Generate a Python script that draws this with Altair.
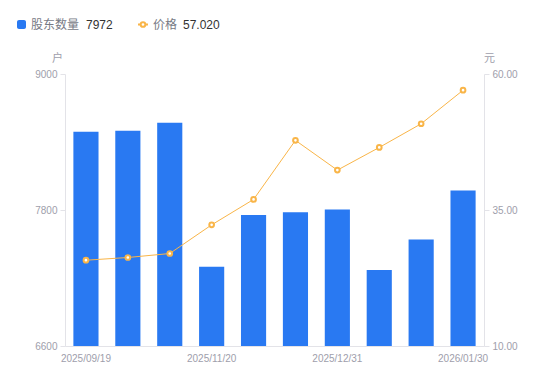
import altair as alt
import pandas as pd

dates = ["2025/09/19", "2025/09/30", "2025/10/31", "2025/11/20", "2025/11/28",
         "2025/12/10", "2025/12/31", "2026/01/09", "2026/01/20", "2026/01/30"]
holders = [8490, 8500, 8570, 7300, 7755, 7780, 7805, 7270, 7540, 7972]
prices = [25.77, 26.27, 27.00, 32.27, 36.94, 47.80, 42.33, 46.50, 50.85, 57.02]
shown_dates = [dates[0], dates[3], dates[6], dates[9]]
left_ticks = [6600, 7800, 9000]
right_ticks = [10, 35, 60]
series_names = ["股东数量", "价格"]
left_unit = "户"
right_unit = "元"

df = pd.DataFrame({"date": dates, "holders": holders, "price": prices})

FONT = "Liberation Sans, Noto Sans CJK SC, sans-serif"
LABEL_COLOR = "#9e9eab"
AXIS_LINE = "#e3e3e8"
BLUE = "#2979f2"
ORANGE = "#f9b548"

x_enc = alt.X("date:N", sort=dates, title=None,
              scale=alt.Scale(paddingInner=0.4, paddingOuter=0.2),
              axis=alt.Axis(values=shown_dates, labelAngle=0, ticks=False,
                            domainColor=AXIS_LINE, labelColor=LABEL_COLOR,
                            labelFontSize=10, labelFont=FONT, labelPadding=7,
                            grid=False))

bars = alt.Chart(df).mark_bar(color=BLUE, clip=True).encode(
    x=x_enc,
    y=alt.Y("holders:Q", scale=alt.Scale(domain=[6600, 9000], zero=False, nice=False),
            axis=alt.Axis(values=left_ticks, format="d", grid=False, title=left_unit,
                          titleAngle=0, titleX=-8, titleY=-16, titleAlign="center",
                          titleBaseline="middle", titleColor=LABEL_COLOR,
                          titleFontSize=11, titleFontWeight="normal", titleFont=FONT,
                          domainColor=AXIS_LINE, tickColor=AXIS_LINE, tickSize=5,
                          labelColor=LABEL_COLOR, labelFontSize=10, labelFont=FONT,
                          labelPadding=3, labelFlush=False)),
)

price_y = alt.Y("price:Q", scale=alt.Scale(domain=[10, 60], zero=False, nice=False),
                axis=alt.Axis(values=right_ticks, format=".2f", orient="right", grid=False,
                              title=right_unit, titleAngle=0, titleX=5, titleY=-16,
                              titleAlign="center", titleBaseline="middle",
                              titleColor=LABEL_COLOR, titleFontSize=11,
                              titleFontWeight="normal", titleFont=FONT,
                              domainColor=AXIS_LINE, tickColor=AXIS_LINE, tickSize=5,
                              labelColor=LABEL_COLOR, labelFontSize=10, labelFont=FONT,
                              labelPadding=3, labelFlush=False))

line = alt.Chart(df).mark_line(color=ORANGE, strokeWidth=1).encode(x=x_enc, y=price_y)
pts = alt.Chart(df).mark_point(shape="circle", filled=True, fill="white", stroke=ORANGE,
                               strokeWidth=2, size=22, opacity=1).encode(x=x_enc, y=price_y)

price_layer = alt.layer(line, pts)

# Legend (custom, top-left)
leg = pd.DataFrame({"a": [0]})
sq = alt.Chart(leg).mark_rect(color=BLUE, cornerRadius=2).encode(
    x=alt.value(-48), x2=alt.value(-39), y=alt.value(-54), y2=alt.value(-45))
t1 = alt.Chart(leg).mark_text(text=series_names[0], align="left", baseline="middle",
                              fontSize=12, font=FONT, color="#777a85").encode(
    x=alt.value(-34), y=alt.value(-49.5))
t2 = alt.Chart(leg).mark_text(text=str(holders[-1]), align="left", baseline="middle",
                              fontSize=12, font=FONT, color="#333333").encode(
    x=alt.value(21), y=alt.value(-49.5))
lg_line = alt.Chart(leg).mark_rule(color=ORANGE, strokeWidth=2).encode(
    x=alt.value(73), x2=alt.value(83), y=alt.value(-49.5))
lg_pt = alt.Chart(leg).mark_point(shape="circle", filled=True, fill="white", stroke=ORANGE,
                                  strokeWidth=2, size=22, opacity=1).encode(
    x=alt.value(78), y=alt.value(-49.5))
t3 = alt.Chart(leg).mark_text(text=series_names[1], align="left", baseline="middle",
                              fontSize=12, font=FONT, color="#777a85").encode(
    x=alt.value(88), y=alt.value(-49.5))
t4 = alt.Chart(leg).mark_text(text=f"{prices[-1]:.3f}", align="left", baseline="middle",
                              fontSize=12, font=FONT, color="#333333").encode(
    x=alt.value(118), y=alt.value(-49.5))

chart = alt.layer(bars, price_layer, sq, t1, t2, lg_line, lg_pt, t3, t4).resolve_scale(
    y="independent"
).properties(
    width=419, height=272,
    autosize=alt.AutoSizeParams(type="none"),
    padding={"left": 57, "top": 66, "right": 58, "bottom": 27},
).configure_view(stroke=None)

chart.save("out.html", embed_options={"renderer": "svg", "actions": False})
